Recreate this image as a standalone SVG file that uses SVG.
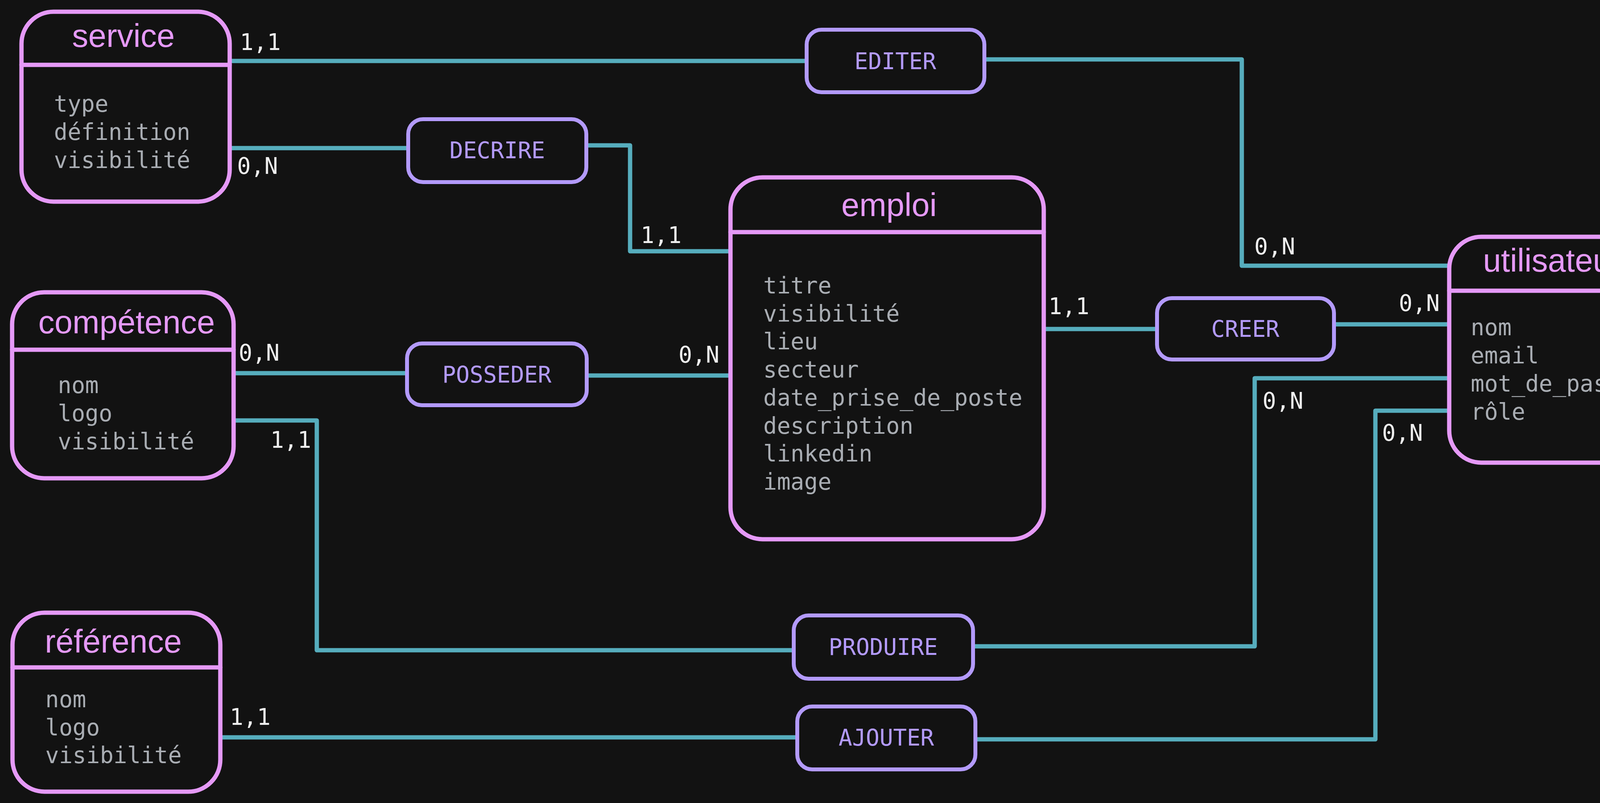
<svg xmlns="http://www.w3.org/2000/svg" width="4274" height="2055" viewBox="0 0 4274 2055">
<style>
.bg{fill:#121212}
.ent{fill:#121212;stroke:#e599f7;stroke-width:11}
.div{stroke:#e599f7;stroke-width:11;stroke-linecap:round}
.rel{fill:#121212;stroke:#b39afc;stroke-width:10}
.title{font-family:"Liberation Sans",Arial,sans-serif;font-size:83px;fill:#e599f7;text-anchor:middle}
.attr{font-family:"DejaVu Sans Mono","Liberation Mono",monospace;font-size:58px;fill:#a9adb3}
.rtxt{font-family:"DejaVu Sans Mono","Liberation Mono",monospace;font-size:58px;fill:#b39afc;text-anchor:middle}
.card{font-family:"DejaVu Sans Mono","Liberation Mono",monospace;font-size:58px;fill:#eeeeee}
.con{fill:none;stroke:#56adbd;stroke-width:11;stroke-linecap:round;stroke-linejoin:round}
</style>
<rect class="bg" x="0" y="0" width="4274" height="2055"/>

<g id="connectors">
<path class="con" d="M588 156 H2065"/>
<path class="con" d="M2520 152 H3179 V680 H3710"/>
<path class="con" d="M588 379 H1045"/>
<path class="con" d="M1501 372 H1613 V643 H1870"/>
<path class="con" d="M598 955 H1042"/>
<path class="con" d="M1502 961 H1870"/>
<path class="con" d="M2672 842 H2962"/>
<path class="con" d="M3415 830 H3710"/>
<path class="con" d="M590 1076 H811 V1664 H2032"/>
<path class="con" d="M2491 1654 H3212 V968 H3705"/>
<path class="con" d="M564 1887 H2041"/>
<path class="con" d="M2497 1892 H3521 V1051 H3710"/>
<text class="card" x="614" y="128">1,1</text>
<text class="card" x="3211" y="651">0,N</text>
<text class="card" x="607" y="445">0,N</text>
<text class="card" x="1640" y="622">1,1</text>
<text class="card" x="611" y="923">0,N</text>
<text class="card" x="1737" y="928">0,N</text>
<text class="card" x="2684" y="804">1,1</text>
<text class="card" x="3581" y="796">0,N</text>
<text class="card" x="692" y="1146">1,1</text>
<text class="card" x="3232" y="1046">0,N</text>
<text class="card" x="588" y="1855">1,1</text>
<text class="card" x="3538" y="1128">0,N</text>
</g>

<g id="service">
<rect class="ent" x="55" y="30" width="533" height="486" rx="82"/>
<line class="div" x1="55" y1="166" x2="588" y2="166"/>
<text class="title" x="316" y="120">service</text>
<text class="attr" x="138" y="286">type</text>
<text class="attr" x="138" y="358">définition</text>
<text class="attr" x="138" y="430">visibilité</text>
</g>

<g id="competence">
<rect class="ent" x="31" y="748" width="567" height="476" rx="82"/>
<line class="div" x1="31" y1="895" x2="598" y2="895"/>
<text class="title" x="324" y="853">compétence</text>
<text class="attr" x="148" y="1006">nom</text>
<text class="attr" x="148" y="1078">logo</text>
<text class="attr" x="148" y="1150">visibilité</text>
</g>

<g id="reference">
<rect class="ent" x="32" y="1568" width="532" height="458" rx="82"/>
<line class="div" x1="32" y1="1708" x2="564" y2="1708"/>
<text class="title" x="290" y="1670">référence</text>
<text class="attr" x="116" y="1810">nom</text>
<text class="attr" x="116" y="1882">logo</text>
<text class="attr" x="116" y="1953">visibilité</text>
</g>

<g id="emploi">
<rect class="ent" x="1870" y="454" width="802" height="926" rx="82"/>
<line class="div" x1="1870" y1="594" x2="2672" y2="594"/>
<text class="title" x="2276" y="553">emploi</text>
<text class="attr" x="1954" y="751">titre</text>
<text class="attr" x="1954" y="823">visibilité</text>
<text class="attr" x="1954" y="894">lieu</text>
<text class="attr" x="1954" y="966">secteur</text>
<text class="attr" x="1954" y="1038">date_prise_de_poste</text>
<text class="attr" x="1954" y="1110">description</text>
<text class="attr" x="1954" y="1181">linkedin</text>
<text class="attr" x="1954" y="1253">image</text>
</g>

<g id="utilisateur">
<rect class="ent" x="3710" y="606" width="534" height="578" rx="82"/>
<line class="div" x1="3710" y1="744" x2="4244" y2="744"/>
<text class="title" x="3974" y="695">utilisateur</text>
<text class="attr" x="3765" y="858">nom</text>
<text class="attr" x="3765" y="930">email</text>
<text class="attr" x="3765" y="1002">mot_de_passe</text>
<text class="attr" x="3765" y="1074">rôle</text>
</g>

<g id="EDITER">
<rect class="rel" x="2065" y="76" width="455" height="160" rx="38"/>
<text class="rtxt" x="2292" y="177">EDITER</text>
</g>
<g id="DECRIRE">
<rect class="rel" x="1045" y="305" width="456" height="161" rx="38"/>
<text class="rtxt" x="1273" y="405">DECRIRE</text>
</g>
<g id="POSSEDER">
<rect class="rel" x="1042" y="879" width="460" height="158" rx="38"/>
<text class="rtxt" x="1272" y="979">POSSEDER</text>
</g>
<g id="CREER">
<rect class="rel" x="2962" y="763" width="453" height="157" rx="38"/>
<text class="rtxt" x="3188" y="862">CREER</text>
</g>
<g id="PRODUIRE">
<rect class="rel" x="2032" y="1575" width="459" height="162" rx="38"/>
<text class="rtxt" x="2261" y="1676">PRODUIRE</text>
</g>
<g id="AJOUTER">
<rect class="rel" x="2041" y="1808" width="456" height="161" rx="38"/>
<text class="rtxt" x="2269" y="1908">AJOUTER</text>
</g>
</svg>
